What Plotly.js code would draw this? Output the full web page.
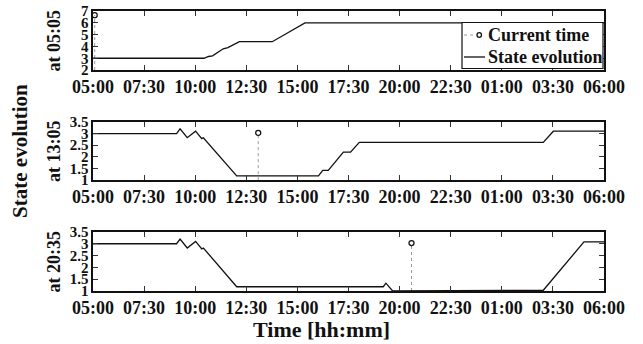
<!DOCTYPE html>
<html>
<head>
<meta charset="utf-8">
<script src="https://cdn.plot.ly/plotly-3.0.1.min.js"></script>
<style>html,body{margin:0;padding:0;background:#fff;}#chart{width:643px;height:344px;}</style>
</head>
<body>
<div id="chart"></div>
<script>
// x values are hours elapsed since 05:00
const tickHours = [0, 2.5, 5, 7.5, 10, 12.5, 15, 17.5, 20, 22.5, 25];
const tickLabels = ["05:00","07:30","10:00","12:30","15:00","17:30","20:00","22:30","01:00","03:30","06:00"];

// y tick values / labels per panel
const yTicksTop = [2, 3, 4, 5, 6, 7];
const yTicksTopLabels = ["2", "3", "4", "5", "6", "7"];
const yTicksLow = [1, 1.5, 2, 2.5, 3, 3.5];
const yTicksLowLabels = ["1", "1.5", "2", "2.5", "3", "3.5"];

const panelTitles = ["at 05:05", "at 13:05", "at 20:35"];
const seriesNames = ["Current time", "State evolution"];

// State evolution, panel 1 (at 05:05)
const t1 = [0, 5.43, 5.65, 5.85, 6.37, 6.6, 7.16, 8.77, 10.37, 25];
const s1 = [3.0, 3.0, 3.15, 3.2, 3.8, 3.9, 4.4, 4.4, 6.0, 6.0];

// State evolution, panel 2 (at 13:05)
const t2 = [0, 4.09, 4.26, 4.61, 5.02, 5.32, 5.40, 7.03, 11.03, 11.24, 11.51, 12.25, 12.6, 13.03, 22.03, 22.52, 25];
const s2 = [3.0, 3.0, 3.2, 2.82, 3.1, 2.78, 2.82, 1.18, 1.18, 1.42, 1.42, 2.2, 2.2, 2.62, 2.62, 3.1, 3.1];

// State evolution, panel 3 (at 20:35)
const t3 = [0, 4.09, 4.26, 4.61, 5.02, 5.32, 5.40, 7.03, 14.2, 14.33, 14.66, 21.05, 21.18, 22.03, 24.02, 25];
const s3 = [3.0, 3.0, 3.2, 2.82, 3.1, 2.78, 2.82, 1.18, 1.18, 1.33, 1.0, 1.0, 1.03, 1.03, 3.08, 3.08];

// Current time markers
const curTime = [0.083, 8.083, 15.583];
const curValue = [6.65, 3.03, 3.03];

// y ranges per panel
const yRanges = [[2, 7], [1, 3.5], [1, 3.5]];

const FONT = 'Liberation Serif';
const BOLD = 700;
const times = [t1, t2, t3];
const states = [s1, s2, s3];
const yTickVals = [yTicksTop, yTicksLow, yTicksLow];
const yTickText = [yTicksTopLabels, yTicksLowLabels, yTicksLowLabels];
const b = s => '<b>' + s + '</b>';

const stemStyle = {color: '#999', width: 1, dash: 'dot'};
const markerStyle = {symbol: 'circle-open', size: 5, color: '#111', line: {width: 1.3, color: '#111'}};
const stateLine = {color: '#111', width: 1.3};

const traces = [];
for (let i = 0; i < 3; i++) {
  const xa = i === 0 ? 'x' : 'x' + (i + 1);
  const ya = i === 0 ? 'y' : 'y' + (i + 1);
  traces.push({
    x: [curTime[i], curTime[i]], y: [yRanges[i][0], curValue[i]],
    xaxis: xa, yaxis: ya, mode: 'lines', showlegend: false, hoverinfo: 'skip',
    line: stemStyle
  });
  traces.push({
    x: [curTime[i]], y: [curValue[i]], xaxis: xa, yaxis: ya,
    mode: 'markers', name: seriesNames[0], showlegend: false, marker: markerStyle
  });
  traces.push({
    x: times[i], y: states[i], xaxis: xa, yaxis: ya,
    mode: 'lines', name: seriesNames[1], showlegend: false, line: stateLine
  });
}

const tickfont = {family: FONT, size: 18, weight: BOLD, color: '#111'};
const base = {
  showline: true, mirror: 'ticks', linecolor: '#111', linewidth: 1.6,
  ticks: 'inside', ticklen: 5, tickwidth: 1, tickcolor: '#333',
  showgrid: false, zeroline: false, tickfont: tickfont, fixedrange: true
};
const domains = [[0.789, 1.0], [0.396, 0.604], [0.0, 0.211]];

// plot-area pixel frame, used for the hand-drawn legend box
const PX = {l: 93, r: 604, t: 11, b: 291};
const px2x = p => (p - PX.l) / (PX.r - PX.l);
const px2y = p => (PX.b - p) / (PX.b - PX.t);

const layout = {
  width: 643, height: 344,
  margin: {l: 93, r: 39, t: 11, b: 53},
  paper_bgcolor: '#fff', plot_bgcolor: '#fff',
  showlegend: false,
  annotations: [],
  shapes: []
};
for (let i = 0; i < 3; i++) {
  const xk = i === 0 ? 'xaxis' : 'xaxis' + (i + 1);
  const yk = i === 0 ? 'yaxis' : 'yaxis' + (i + 1);
  const yid = i === 0 ? 'y' : 'y' + (i + 1);
  const xid = i === 0 ? 'x' : 'x' + (i + 1);
  layout[xk] = Object.assign({}, base, {
    range: [0, 25], tickmode: 'array', tickvals: tickHours, ticktext: tickLabels.map(b),
    anchor: yid, domain: [0, 1]
  });
  layout[yk] = Object.assign({}, base, {
    range: yRanges[i], tickmode: 'array', tickvals: yTickVals[i], ticktext: yTickText[i].map(b),
    anchor: xid, domain: domains[i],
    tickfont: {family: FONT, size: 15, weight: BOLD, color: '#111'}
  });
  layout.annotations.push({
    text: b(panelTitles[i]), xref: 'paper', yref: 'paper',
    x: -0.0763, y: (domains[i][0] + domains[i][1]) / 2,
    xanchor: 'center', yanchor: 'middle', textangle: -90, showarrow: false,
    font: {family: FONT, size: 18, weight: BOLD, color: '#111'}
  });
}
layout.annotations.push({
  text: b('State evolution'), xref: 'paper', yref: 'paper', x: -0.143, y: 0.5,
  xanchor: 'center', yanchor: 'middle', textangle: -90, showarrow: false,
  font: {family: FONT, size: 21, weight: BOLD, color: '#111'}
});
layout.annotations.push({
  text: b('Time [hh:mm]'), xref: 'paper', yref: 'paper', x: 0.447, y: -0.139,
  xanchor: 'center', yanchor: 'middle', showarrow: false,
  font: {family: FONT, size: 22, weight: BOLD, color: '#111'}
});

// Legend box (drawn inside the top panel)
layout.shapes.push({
  type: 'rect', xref: 'paper', yref: 'paper', layer: 'above',
  x0: px2x(462), x1: px2x(603), y0: px2y(68.5), y1: px2y(22.5),
  line: {color: '#111', width: 1.2}, fillcolor: '#fff'
});
layout.shapes.push({
  type: 'line', xref: 'paper', yref: 'paper', layer: 'above',
  x0: px2x(464), x1: px2x(476), y0: px2y(35), y1: px2y(35), line: stemStyle
});
layout.shapes.push({
  type: 'circle', xref: 'paper', yref: 'paper', layer: 'above',
  x0: px2x(477), x1: px2x(481.5), y0: px2y(37.3), y1: px2y(32.7),
  line: {color: '#111', width: 1.3}, fillcolor: 'rgba(0,0,0,0)'
});
layout.shapes.push({
  type: 'line', xref: 'paper', yref: 'paper', layer: 'above',
  x0: px2x(464), x1: px2x(485), y0: px2y(57), y1: px2y(57), line: {color: '#111', width: 1.3}
});
[35, 57].forEach((py, k) => {
  layout.annotations.push({
    text: b(seriesNames[k]), xref: 'paper', yref: 'paper', x: px2x(486.5), y: px2y(py),
    xanchor: 'left', yanchor: 'middle', showarrow: false, borderpad: 0,
    font: {family: FONT, size: 18, weight: BOLD, color: '#111'}
  });
});

Plotly.newPlot('chart', traces, layout, {displayModeBar: false, staticPlot: true});
</script>
</body>
</html>
